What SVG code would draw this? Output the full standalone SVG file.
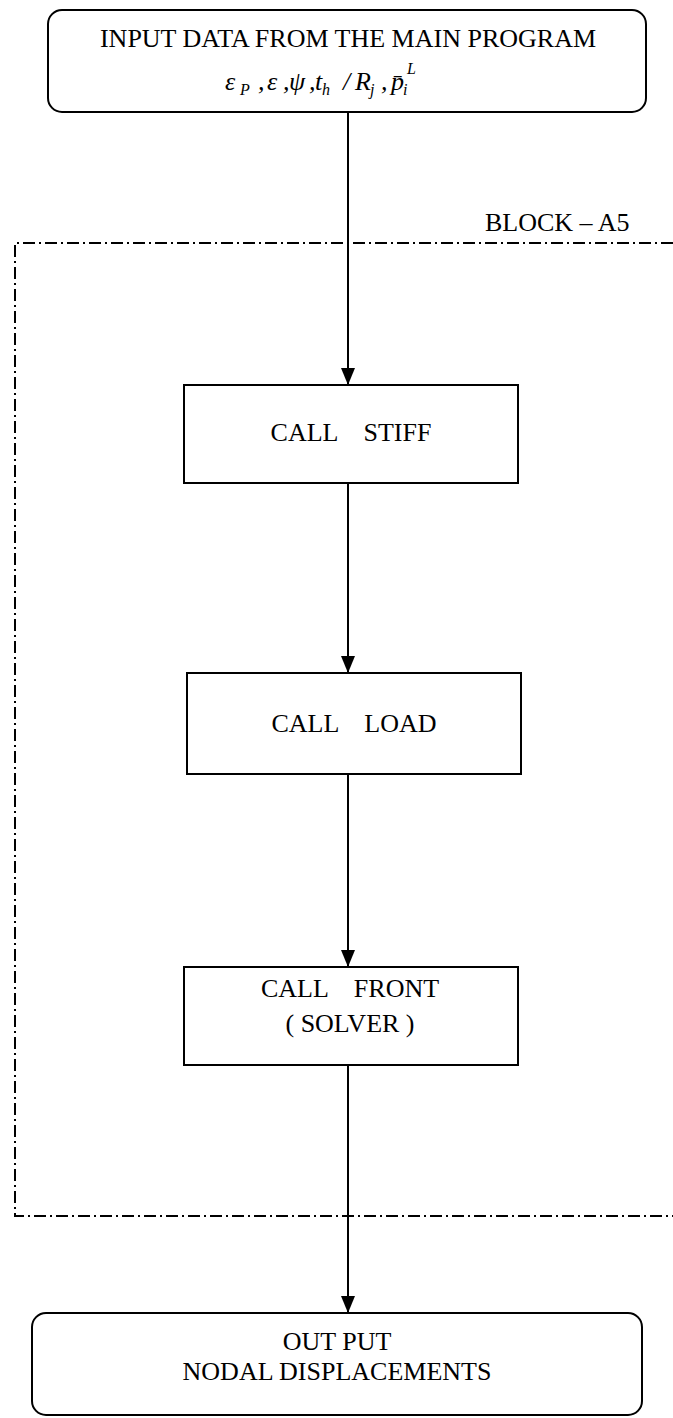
<svg xmlns="http://www.w3.org/2000/svg" width="673" height="1418" viewBox="0 0 673 1418">
<defs>
<marker id="ah" markerWidth="17" markerHeight="14" refX="17" refY="7" orient="auto" markerUnits="userSpaceOnUse" viewBox="0 0 17 14">
<path d="M0,0 L17,7 L0,14 Z" fill="#000"/>
</marker>
</defs>
<style>
.box{fill:#fff;stroke:#000;stroke-width:2}
.t{font-family:"Liberation Serif","Times New Roman",serif;font-size:26px;fill:#000}
.m{font-family:"Liberation Serif","Times New Roman",serif;font-size:26px;font-style:italic;fill:#000}
.s{font-size:16px}
.conn{stroke:#000;stroke-width:2;fill:none}
.blk{stroke:#000;stroke-width:2;fill:none;stroke-dasharray:12 4 2 4}
</style>
<g id="block-a5">
<path class="blk" d="M673,243 L15,243 L15,1216 L673,1216"/>
<text class="t" x="485" y="231" font-size="24">BLOCK – A5</text>
</g>
<g id="connectors">
<line class="conn" x1="348" y1="112" x2="348" y2="385" marker-end="url(#ah)"/>
<line class="conn" x1="348" y1="483" x2="348" y2="673" marker-end="url(#ah)"/>
<line class="conn" x1="348" y1="774" x2="348" y2="967" marker-end="url(#ah)"/>
<line class="conn" x1="348" y1="1065" x2="348" y2="1313" marker-end="url(#ah)"/>
</g>
<g id="input">
<rect class="box" x="48" y="10" width="598" height="102" rx="14"/>
<text class="t" x="348" y="47" text-anchor="middle">INPUT DATA FROM THE MAIN PROGRAM</text>
<text class="m" y="90"><tspan x="225">ε</tspan><tspan class="s" x="240" dy="5">P</tspan><tspan x="258" dy="-5">,</tspan><tspan x="267">ε</tspan><tspan x="283">,</tspan><tspan x="289">ψ</tspan><tspan x="309">,</tspan><tspan x="315">t</tspan><tspan class="s" x="322" dy="5">h</tspan><tspan x="343" dy="-5">/</tspan><tspan x="355">R</tspan><tspan class="s" x="370" dy="5">j</tspan><tspan x="381" dy="-5">,</tspan><tspan x="391">p̄</tspan><tspan class="s" x="403" dy="5">i</tspan><tspan class="s" x="407" dy="-21">L</tspan></text>
</g>
<g id="stiff">
<rect class="box" x="184" y="385" width="334" height="98"/>
<text class="t" x="351" y="441" text-anchor="middle" xml:space="preserve">CALL    STIFF</text>
</g>
<g id="load">
<rect class="box" x="187" y="673" width="334" height="101"/>
<text class="t" x="354" y="732" text-anchor="middle" xml:space="preserve">CALL    LOAD</text>
</g>
<g id="front">
<rect class="box" x="184" y="967" width="334" height="98"/>
<text class="t" x="350" y="997" text-anchor="middle" xml:space="preserve">CALL    FRONT</text>
<text class="t" x="350" y="1032" text-anchor="middle">( SOLVER )</text>
</g>
<g id="output">
<rect class="box" x="32" y="1313" width="610" height="102" rx="14"/>
<text class="t" x="337" y="1350" text-anchor="middle">OUT PUT</text>
<text class="t" x="337" y="1380" text-anchor="middle">NODAL DISPLACEMENTS</text>
</g>
</svg>
